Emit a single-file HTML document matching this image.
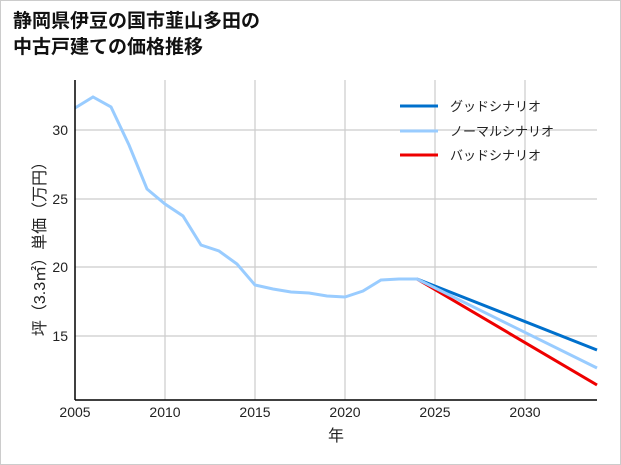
<!DOCTYPE html>
<html><head><meta charset="utf-8"><style>
body{margin:0;background:#fff;}
.wrap{width:619px;height:463px;border:1px solid #ccc;position:relative;background:#fff;overflow:hidden}
.t{position:absolute;left:12px;font:bold 19px "Liberation Sans","Noto Sans CJK JP",sans-serif;color:#111;line-height:26px}
</style></head><body><div class="wrap">
<div class="t" style="top:8px">静岡県伊豆の国市韮山多田の<br>中古戸建ての価格推移</div>
<svg width="621" height="465" style="position:absolute;left:-1px;top:-1px" font-family="Liberation Sans, Noto Sans CJK JP, sans-serif">
<g stroke="#ccc" stroke-width="1.2">
<line x1="165" y1="80" x2="165" y2="400"/><line x1="255" y1="80" x2="255" y2="400"/><line x1="345" y1="80" x2="345" y2="400"/><line x1="435" y1="80" x2="435" y2="400"/><line x1="525" y1="80" x2="525" y2="400"/>
<line x1="75" y1="130" x2="597" y2="130"/><line x1="75" y1="199" x2="597" y2="199"/><line x1="75" y1="267" x2="597" y2="267"/><line x1="75" y1="336" x2="597" y2="336"/>
</g>
<polyline fill="none" stroke="#0070cc" stroke-width="3" points="417,279 597,350"/>
<polyline fill="none" stroke="#ee0000" stroke-width="3" points="417,279 597,385"/>
<polyline fill="none" stroke="#99ccff" stroke-width="3" points="75,108 93,97 111,107 129,145 147,189 165,204 183,216 201,245 219,251 237,264 255,285 273,289 291,292 309,293 327,296 345,297 363,291 381,280 399,279 417,279 597,368"/>
<line x1="75" y1="80" x2="75" y2="400" stroke="#000" stroke-width="1.5"/>
<line x1="75" y1="400" x2="597" y2="400" stroke="#000" stroke-width="1.5"/>
<g font-size="14" fill="#222" text-anchor="middle">
<text x="75" y="417">2005</text><text x="165" y="417">2010</text><text x="255" y="417">2015</text><text x="345" y="417">2020</text><text x="435" y="417">2025</text><text x="525" y="417">2030</text>
<text x="336" y="441" font-size="16">年</text>
</g>
<g font-size="14" fill="#222" text-anchor="end">
<text x="68" y="135">30</text><text x="68" y="204">25</text><text x="68" y="272">20</text><text x="68" y="341">15</text>
</g>
<text transform="translate(45,245) rotate(-90)" font-size="16" fill="#222" text-anchor="middle">坪（3.3㎡）単価（万円）</text>
<g font-size="13" fill="#222">
<line x1="400" y1="106" x2="438" y2="106" stroke="#0070cc" stroke-width="3"/><text x="450" y="111">グッドシナリオ</text>
<line x1="400" y1="131" x2="438" y2="131" stroke="#99ccff" stroke-width="3"/><text x="450" y="136">ノーマルシナリオ</text>
<line x1="400" y1="155" x2="438" y2="155" stroke="#ee0000" stroke-width="3"/><text x="450" y="160">バッドシナリオ</text>
</g>
</svg></div></body></html>
